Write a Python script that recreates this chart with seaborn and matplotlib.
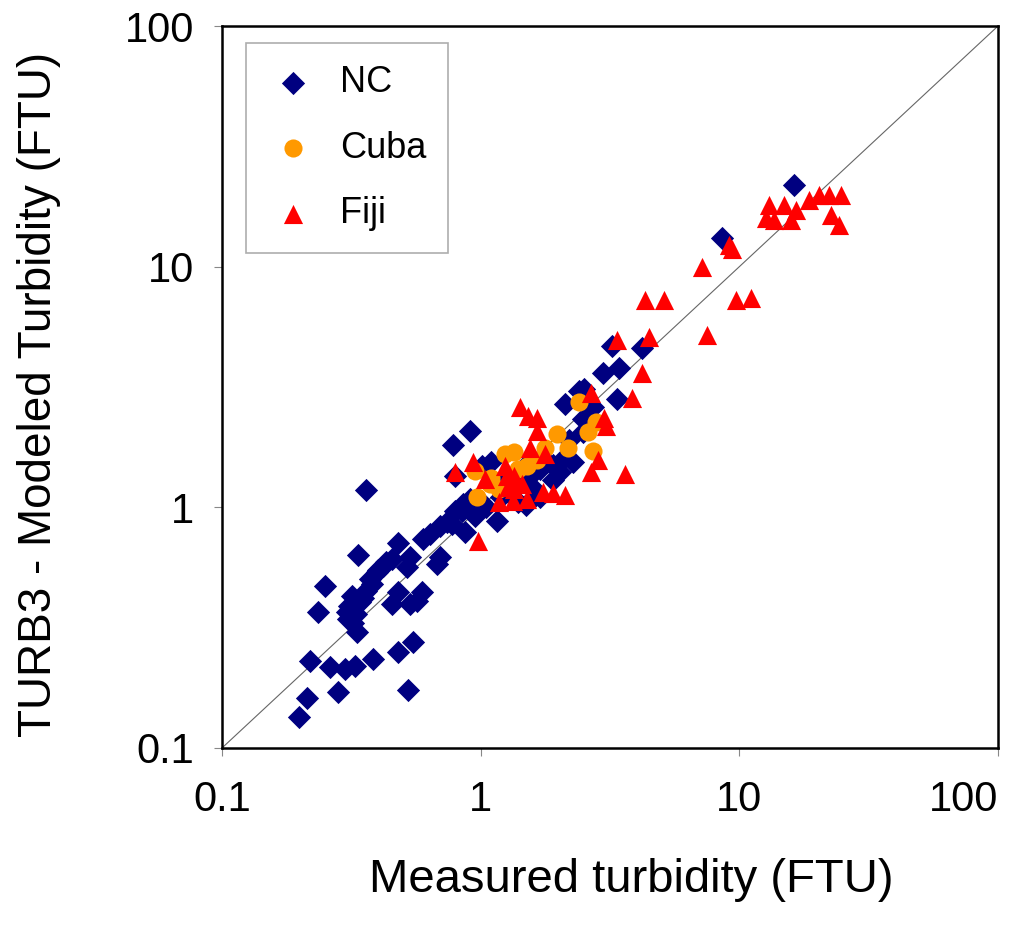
import numpy as np
import pandas as pd
import matplotlib
matplotlib.use("Agg")
import matplotlib.pyplot as plt
import seaborn as sns

# measured (x) vs modeled (y) turbidity, FTU
nc_measured = [
    0.360, 0.335, 0.478, 0.250, 0.235, 0.304, 0.318, 0.341, 0.373, 0.397,
    0.419, 0.453, 0.532, 0.518, 0.597, 0.635, 0.695, 0.739, 0.773, 0.794,
    0.852, 0.907, 0.867, 0.695, 0.676, 0.453, 0.478, 0.532, 0.592, 0.566,
    0.332, 0.306, 0.546, 0.478, 0.383, 0.326, 0.299, 0.261, 0.219, 0.281,
    0.522, 0.213, 0.198, 0.33, 0.36, 0.38, 0.35, 0.32, 0.40, 0.31, 0.43,
    0.907, 0.780, 3.21, 4.19, 2.96, 3.44, 2.41, 2.11, 3.38, 2.71,
    2.48, 2.48, 2.27, 2.02, 1.10, 1.01, 0.794, 1.16, 0.845, 16.3,
    8.59, 2.52, 1.3, 1.45, 1.55, 1.7, 1.9, 1.6, 1.4, 1.2,
    1.05, 1.8, 2.1, 1.5, 1.25, 1.7, 1.5, 0.95, 1.0, 1.9, 2.2,
]
nc_modeled = [
    1.18, 0.632, 0.709, 0.470, 0.367, 0.367, 0.427, 0.403, 0.502, 0.537,
    0.569, 0.608, 0.620, 0.564, 0.737, 0.773, 0.834, 0.867, 0.850, 0.963,
    1.03, 1.08, 0.788, 0.620, 0.580, 0.396, 0.444, 0.396, 0.444, 0.407,
    0.303, 0.343, 0.275, 0.250, 0.234, 0.219, 0.213, 0.217, 0.230, 0.171,
    0.174, 0.161, 0.135, 0.36, 0.45, 0.48, 0.42, 0.33, 0.55, 0.39, 0.59,
    2.07, 1.81, 4.66, 4.61, 3.63, 3.81, 3.03, 2.68, 2.81, 2.60,
    2.32, 2.05, 1.54, 1.40, 1.55, 1.48, 1.35, 0.875, 0.963, 21.9,
    13.2, 3.09, 1.2, 1.3, 1.35, 1.45, 1.5, 1.2, 1.05, 1.1,
    1.0, 1.55, 1.6, 1.5, 1.35, 1.1, 1.02, 0.92, 1.05, 1.3, 1.9,
]

cuba_measured = [2.41, 2.80, 2.59, 2.71, 1.97, 2.17, 1.77, 1.65, 1.51, 1.35,
                 1.24, 0.948, 1.10, 0.966, 1.18, 1.09, 1.40, 1.30]
cuba_modeled = [2.73, 2.27, 2.05, 1.71, 2.01, 1.77, 1.77, 1.58, 1.48, 1.69,
                1.66, 1.41, 1.33, 1.10, 1.19, 1.25, 1.45, 1.25]

fiji_measured = [
    3.38, 4.49, 7.52, 4.22, 3.86, 2.68, 3.01, 3.06, 2.83, 2.68,
    3.60, 1.42, 1.52, 1.65, 1.65, 1.55, 1.77, 0.931, 0.794, 1.04,
    1.24, 1.26, 1.35, 1.35, 1.18, 1.33, 1.51, 1.74, 1.90, 2.11,
    0.973, 13.06, 14.93, 12.71, 13.65, 15.88, 16.6, 18.62, 20.37, 22.25,
    24.8, 22.6, 24.3, 9.15, 9.39, 7.19, 4.30, 5.13, 9.73, 11.12,
    1.28, 1.45,
]
fiji_modeled = [
    4.98, 5.08, 5.22, 3.63, 2.86, 3.00, 2.36, 2.17, 1.58, 1.40,
    1.37, 2.60, 2.39, 2.36, 2.07, 1.77, 1.66, 1.54, 1.40, 1.31,
    1.48, 1.35, 1.35, 1.19, 1.05, 1.06, 1.08, 1.16, 1.15, 1.13,
    0.723, 18.1, 18.1, 16.0, 15.7, 15.7, 17.2, 19.0, 19.9, 19.9,
    19.9, 16.4, 14.9, 12.3, 11.8, 10.0, 7.30, 7.30, 7.30, 7.44,
    1.22, 1.25,
]

tick_values = [0.1, 1, 10, 100]
tick_labels = ["0.1", "1", "10", "100"]

df = pd.concat([
    pd.DataFrame({"measured": nc_measured, "modeled": nc_modeled, "site": "NC"}),
    pd.DataFrame({"measured": cuba_measured, "modeled": cuba_modeled, "site": "Cuba"}),
    pd.DataFrame({"measured": fiji_measured, "modeled": fiji_modeled, "site": "Fiji"}),
], ignore_index=True)

colors = {"NC": "#000080", "Cuba": "#FF9900", "Fiji": "#FF0000"}
markers = {"NC": "D", "Cuba": "o", "Fiji": "^"}
sizes = {"NC": 140, "Cuba": 170, "Fiji": 190}

sns.set_style("white")
plt.rcParams["font.family"] = ["Liberation Sans", "DejaVu Sans"]
plt.rcParams["text.color"] = "black"
plt.rcParams["axes.labelcolor"] = "black"

fig = plt.figure(figsize=(10.24, 9.33), dpi=100)
ax = fig.add_axes([0.2168, 0.1983, 0.7578, 0.7738])

# 1:1 line
ax.plot(tick_values, tick_values, color="#666666", lw=0.8, zorder=1)

for site in ["NC", "Cuba", "Fiji"]:
    sub = df[df["site"] == site]
    sns.scatterplot(data=sub, x="measured", y="modeled", ax=ax,
                    color=colors[site], marker=markers[site], s=sizes[site],
                    linewidth=0, label=site, zorder=3)

ax.set_xscale("log")
ax.set_yscale("log")
ax.set_xlim(0.1, 100)
ax.set_ylim(0.1, 100)
ax.set_xticks(tick_values)
ax.set_xticklabels(tick_labels)
ax.set_yticks(tick_values)
ax.set_yticklabels(tick_labels)
ax.minorticks_off()
ax.tick_params(axis="both", which="major", direction="out", length=6,
               width=0.8, color="#888888", labelcolor="black", labelsize=30,
               left=True, bottom=True)
ax.tick_params(axis="x", pad=17)
ax.tick_params(axis="y", pad=14)
# last x label pulled inside the figure, as in the original
ax.get_xticklabels()[-1].set_horizontalalignment("right")

for sp in ax.spines.values():
    sp.set_color("black")
    sp.set_linewidth(1.8)
    sp.set_visible(True)

ax.set_xlabel("Measured turbidity (FTU)", fontsize=34)
ax.set_ylabel("TURB3 - Modeled Turbidity (FTU)", fontsize=33)
ax.xaxis.set_label_coords(0.527, -0.152)
ax.yaxis.set_label_coords(-0.208, 0.49)

leg = ax.legend(loc="upper left", bbox_to_anchor=(0.031, 0.976), borderaxespad=0,
                fontsize=26, frameon=True, fancybox=False, borderpad=0.6,
                labelspacing=0.85, handlelength=1.4, handletextpad=0.6)
leg.get_frame().set_edgecolor("#999999")
leg.get_frame().set_linewidth(1.2)

fig.savefig("out.png", dpi=100)
